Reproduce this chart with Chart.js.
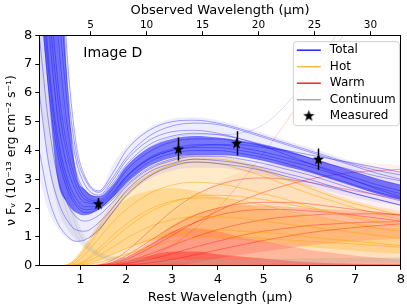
<!DOCTYPE html>
<html>
<head>
<meta charset="utf-8">
<script src="https://cdn.jsdelivr.net/npm/chart.js@4.4.0/dist/chart.umd.min.js"></script>
<style>
  html, body { margin: 0; padding: 0; background: #fff; }
  canvas { display: block; }
</style>
</head>
<body>
<canvas id="sed" width="407" height="305"></canvas>
<script>
// rest wavelength grid (micron) the curves are read at
const restX = [0.1, 0.3, 0.5, 0.7, 0.9, 1.1, 1.4, 1.7, 2.0, 2.5, 3.0, 3.5, 4.0, 4.5, 5.0, 5.5, 6.0, 6.5, 7.0, 7.5, 8.0];
const zPlus1 = 4.09;
const restTicks = [1, 2, 3, 4, 5, 6, 7, 8];
const obsTicks = [5, 10, 15, 20, 25, 30];

// envelopes of the model draws
const totalOuterHi = [50, 30, 16, 8.0, 4.1, 3.1, 2.6, 3.5, 4.15, 4.8, 5.1, 5.15, 5.05, 4.85, 4.6, 4.35, 4.1, 3.85, 3.6, 3.4, 3.25];
const totalOuterLo = [3.0, 1.9, 1.3, 0.95, 0.83, 0.9, 1.2, 1.8, 2.4, 3.0, 3.3, 3.4, 3.4, 3.3, 3.15, 2.95, 2.75, 2.55, 2.35, 2.2, 2.1];
const totalInnerHi = [40, 25, 14, 6.8, 3.3, 2.65, 2.4, 2.8, 3.45, 4.1, 4.4, 4.5, 4.45, 4.35, 4.2, 4.0, 3.75, 3.5, 3.25, 3.0, 2.8];
const totalInnerLo = [9.5, 6.0, 3.0, 2.2, 1.85, 1.75, 1.95, 2.35, 2.85, 3.45, 3.75, 3.85, 3.85, 3.8, 3.65, 3.45, 3.25, 3.0, 2.75, 2.5, 2.3];

const hotOuterHi = [0, 0, 0, 0.05, 0.3, 0.75, 1.5, 2.2, 2.75, 3.35, 3.75, 3.85, 3.8, 3.65, 3.4, 3.1, 2.8, 2.5, 2.25, 2.05, 1.9];
const hotInnerHi = [0, 0, 0, 0.02, 0.2, 0.6, 1.3, 1.9, 2.3, 2.6, 2.7, 2.6, 2.4, 2.2, 2.0, 1.85, 1.7, 1.6, 1.5, 1.4, 1.3];
const hotInnerLo = [0, 0, 0, 0, 0, 0.05, 0.2, 0.4, 0.6, 0.85, 1.0, 1.0, 0.95, 0.9, 0.8, 0.72, 0.65, 0.58, 0.52, 0.46, 0.42];

const warmOuterHi = [0, 0, 0, 0, 0, 0, 0.03, 0.15, 0.45, 1.1, 1.8, 2.4, 2.9, 3.25, 3.5, 3.6, 3.65, 3.65, 3.6, 3.55, 3.5];
const warmInnerHi = [0, 0, 0, 0, 0, 0, 0.02, 0.1, 0.3, 0.8, 1.4, 1.8, 2.0, 2.1, 2.1, 2.05, 2.0, 1.95, 1.9, 1.85, 1.8];
const warmInnerLo = [0, 0, 0, 0, 0, 0, 0, 0, 0, 0, 0, 0.1, 0.25, 0.38, 0.5, 0.6, 0.7, 0.78, 0.85, 0.9, 0.95];
const warmBaseHi = [0, 0, 0, 0, 0, 0, 0.01, 0.08, 0.25, 0.7, 1.2, 1.3, 1.2, 1.0, 0.85, 0.7, 0.55, 0.45, 0.35, 0.28, 0.22];
const warmCoreHi = [0, 0, 0, 0, 0, 0, 0.01, 0.05, 0.15, 0.35, 0.5, 0.5, 0.4, 0.32, 0.25, 0.18, 0.12, 0.09, 0.07, 0.06, 0.05];
const zeroLine = [0, 0, 0, 0, 0, 0, 0, 0, 0, 0, 0, 0, 0, 0, 0, 0, 0, 0, 0, 0, 0];

const contHi = [30, 14, 7.0, 3.5, 1.8, 1.0, 0.5, 0.35, 0.3, 0.25, 0.22, 0.22, 0.22, 0.23, 0.24, 0.25, 0.26, 0.27, 0.28, 0.29, 0.3];
const contLo = [6.0, 3.5, 2.0, 1.3, 0.9, 0.6, 0.3, 0.12, 0.06, 0.05, 0.05, 0.05, 0.05, 0.05, 0.06, 0.06, 0.06, 0.07, 0.07, 0.08, 0.08];

// individual draws
const totalDraws = [
  [14, 8.5, 5.2, 3.5, 2.6, 2.2, 2.15, 2.5, 3.1, 3.75, 4.05, 4.2, 4.2, 4.1, 3.95, 3.75, 3.55, 3.3, 3.05, 2.8, 2.6],
  [22, 13, 8.2, 5.0, 3.3, 2.6, 2.4, 2.85, 3.5, 4.2, 4.5, 4.6, 4.55, 4.4, 4.2, 4.0, 3.75, 3.5, 3.25, 3.0, 2.8],
  [10, 6.2, 3.9, 2.7, 2.1, 1.85, 1.95, 2.3, 2.8, 3.4, 3.7, 3.85, 3.85, 3.8, 3.65, 3.45, 3.25, 3.0, 2.75, 2.5, 2.3],
  [30, 18, 11, 6.5, 4.0, 3.0, 2.55, 3.05, 3.75, 4.5, 4.85, 4.95, 4.9, 4.7, 4.45, 4.2, 3.95, 3.7, 3.45, 3.2, 3.0],
  [6, 3.6, 2.3, 1.6, 1.25, 1.2, 1.5, 2.0, 2.6, 3.25, 3.55, 3.7, 3.65, 3.55, 3.4, 3.2, 3.0, 2.75, 2.5, 2.3, 2.1],
  [4, 2.4, 1.5, 1.05, 0.85, 0.9, 1.25, 1.85, 2.45, 3.1, 3.45, 3.6, 3.55, 3.45, 3.3, 3.1, 2.9, 2.7, 2.5, 2.3, 2.1],
  [18, 10.5, 6.5, 4.2, 3.0, 2.4, 2.25, 2.65, 3.3, 3.95, 4.3, 4.4, 4.4, 4.3, 4.15, 3.95, 3.75, 3.5, 3.3, 3.1, 2.95],
  [12, 7.2, 4.5, 3.1, 2.35, 2.05, 2.05, 2.4, 2.95, 3.6, 3.9, 4.0, 4.0, 3.9, 3.75, 3.55, 3.3, 3.05, 2.8, 2.55, 2.35],
  [16, 9.5, 5.9, 3.9, 2.8, 2.3, 2.2, 2.55, 3.1, 3.7, 4.0, 4.15, 4.2, 4.2, 4.1, 4.0, 3.85, 3.7, 3.55, 3.4, 3.25],
  [26, 15, 9.5, 5.8, 3.7, 2.8, 2.45, 2.95, 3.65, 4.35, 4.65, 4.7, 4.6, 4.4, 4.15, 3.85, 3.55, 3.25, 2.95, 2.65, 2.4],
  [8, 5.0, 3.1, 2.2, 1.7, 1.55, 1.75, 2.2, 2.75, 3.35, 3.65, 3.8, 3.8, 3.7, 3.55, 3.35, 3.15, 2.9, 2.65, 2.45, 2.25],
  [35, 21, 13, 7.5, 4.3, 3.1, 2.6, 3.2, 4.0, 4.7, 5.0, 5.05, 4.95, 4.75, 4.5, 4.25, 4.0, 3.75, 3.5, 3.3, 3.15],
  [11, 6.8, 4.2, 2.9, 2.2, 1.95, 2.0, 2.45, 3.05, 3.7, 4.0, 4.1, 4.1, 4.0, 3.85, 3.65, 3.45, 3.2, 2.95, 2.7, 2.5],
  [20, 12, 7.5, 4.6, 3.2, 2.5, 2.3, 2.7, 3.4, 4.1, 4.45, 4.55, 4.55, 4.6, 4.9, 5.6, 6.6, 7.8, 9, 10, 11]
];
const hotDraws = [
  [0, 0, 0, 0.03, 0.25, 0.65, 1.35, 2.0, 2.55, 3.15, 3.5, 3.6, 3.55, 3.35, 3.1, 2.8, 2.5, 2.25, 2.0, 1.8, 1.6],
  [0, 0, 0, 0.01, 0.12, 0.4, 0.95, 1.5, 1.95, 2.5, 2.8, 2.9, 2.85, 2.7, 2.5, 2.3, 2.05, 1.85, 1.65, 1.5, 1.35],
  [0, 0, 0, 0, 0.05, 0.2, 0.6, 1.05, 1.45, 1.95, 2.25, 2.35, 2.35, 2.25, 2.1, 1.9, 1.75, 1.6, 1.45, 1.3, 1.2],
  [0, 0, 0, 0, 0.02, 0.1, 0.35, 0.65, 0.95, 1.35, 1.6, 1.7, 1.7, 1.65, 1.55, 1.45, 1.35, 1.25, 1.15, 1.05, 0.95],
  [0, 0, 0, 0, 0.01, 0.05, 0.2, 0.4, 0.6, 0.9, 1.1, 1.2, 1.25, 1.2, 1.15, 1.1, 1.0, 0.92, 0.85, 0.78, 0.7],
  [0, 0, 0, 0.02, 0.2, 0.55, 1.2, 1.85, 2.4, 3.1, 3.5, 3.7, 3.7, 3.55, 3.3, 3.0, 2.7, 2.4, 2.15, 1.95, 1.75],
  [0, 0, 0, 0, 0.03, 0.15, 0.5, 0.9, 1.3, 1.85, 2.2, 2.4, 2.45, 2.4, 2.3, 2.15, 2.0, 1.85, 1.7, 1.55, 1.45],
  [0, 0, 0, 0, 0.01, 0.03, 0.12, 0.25, 0.4, 0.65, 0.85, 0.95, 1.0, 1.0, 0.95, 0.9, 0.85, 0.8, 0.75, 0.7, 0.65]
];
const warmDraws = [
  [0, 0, 0, 0, 0, 0, 0.02, 0.1, 0.28, 0.7, 1.15, 1.5, 1.75, 1.9, 1.95, 1.95, 1.9, 1.85, 1.75, 1.65, 1.55],
  [0, 0, 0, 0, 0, 0, 0.01, 0.05, 0.15, 0.4, 0.7, 1.0, 1.25, 1.45, 1.6, 1.7, 1.75, 1.8, 1.8, 1.8, 1.78],
  [0, 0, 0, 0, 0, 0, 0, 0.02, 0.07, 0.22, 0.42, 0.65, 0.85, 1.05, 1.2, 1.3, 1.4, 1.45, 1.5, 1.52, 1.53],
  [0, 0, 0, 0, 0, 0, 0.03, 0.2, 0.5, 1.2, 1.9, 2.45, 2.8, 3.0, 3.05, 3.0, 2.9, 2.75, 2.6, 2.45, 2.3],
  [0, 0, 0, 0, 0, 0, 0, 0.01, 0.03, 0.1, 0.22, 0.38, 0.55, 0.72, 0.88, 1.02, 1.15, 1.25, 1.33, 1.4, 1.45],
  [0, 0, 0, 0, 0, 0, 0.01, 0.08, 0.22, 0.6, 1.05, 1.5, 1.9, 2.25, 2.55, 2.8, 3.0, 3.15, 3.25, 3.3, 3.35],
  [0, 0, 0, 0, 0, 0, 0.02, 0.12, 0.35, 0.85, 1.35, 1.75, 2.0, 2.15, 2.2, 2.2, 2.15, 2.05, 1.95, 1.85, 1.75],
  [0, 0, 0, 0, 0, 0, 0, 0.02, 0.08, 0.3, 0.7, 1.3, 2.0, 2.9, 3.9, 5.0, 6.2, 7.4, 8.6, 9.6, 10.5]
];
const contDraws = [
  [12, 6.0, 3.2, 1.9, 1.1, 0.7, 0.35, 0.2, 0.16, 0.13, 0.12, 0.12, 0.12, 0.13, 0.13, 0.14, 0.15, 0.16, 0.17, 0.18, 0.19],
  [20, 10, 5.0, 2.6, 1.4, 0.8, 0.4, 0.28, 0.24, 0.2, 0.18, 0.18, 0.18, 0.19, 0.2, 0.21, 0.22, 0.23, 0.24, 0.25, 0.26]
];

// measured photometry
const measX = [1.39, 3.14, 4.41, 6.2];
const measY = [2.15, 4.05, 4.25, 3.70];
const measErr = [0.2, 0.4, 0.42, 0.37];

const legendNames = ['Total', 'Hot', 'Warm', 'Continuum', 'Measured'];
const legendColors = ['#2020ff', '#ffb940', '#ff2020', '#a8a8a8', '#000'];

const BLUE = '0,0,255', ORANGE = '255,165,0', RED = '255,0,0', GRAY = '170,170,170';

Chart.defaults.font.family = 'DejaVu Sans';
Chart.defaults.color = '#000';

const pts = vals => vals.map((v, i) => ({ x: restX[i], y: v }));
const layers = [];
function addBand(lo, hi, rgb, a) {
  layers.push({ data: pts(lo), borderWidth: 0, pointRadius: 0, fill: false, cubicInterpolationMode: 'monotone' });
  layers.push({ data: pts(hi), borderWidth: 0, pointRadius: 0, fill: '-1',
    backgroundColor: 'rgba(' + rgb + ',' + a + ')', cubicInterpolationMode: 'monotone' });
}
function addLine(vals, rgb, a, w) {
  layers.push({ data: pts(vals), borderColor: 'rgba(' + rgb + ',' + a + ')', borderWidth: w || 1,
    pointRadius: 0, fill: false, cubicInterpolationMode: 'monotone' });
}

addBand(zeroLine, warmOuterHi, RED, 0.06);
addBand(zeroLine, hotOuterHi, ORANGE, 0.22);
addBand(warmInnerLo, warmInnerHi, RED, 0.15);
addBand(hotInnerLo, hotInnerHi, ORANGE, 0.26);
addBand(zeroLine, warmBaseHi, RED, 0.18);
addBand(zeroLine, warmCoreHi, RED, 0.35);
addBand(contLo, contHi, GRAY, 0.2);
contDraws.forEach(c => addLine(c, GRAY, 0.25));
hotDraws.forEach((c, i) => {
  addLine(c, ORANGE, 0.5);
  if (warmDraws[i]) addLine(warmDraws[i], RED, i === 7 ? 0.18 : 0.35);
});
addBand(totalOuterLo, totalOuterHi, BLUE, 0.07);
addBand(totalInnerLo, totalInnerHi, BLUE, 0.5);
totalDraws.forEach((c, i) => addLine(c, BLUE, i === 13 ? 0.15 : 0.35));

// star marker used as point style
const star = document.createElement('canvas');
star.width = 13; star.height = 13;
(function () {
  const c = star.getContext('2d');
  c.beginPath();
  for (let k = 0; k < 10; k++) {
    const r = k % 2 ? 2.4 : 6;
    const ang = -Math.PI / 2 + k * Math.PI / 5;
    c.lineTo(6.5 + r * Math.cos(ang), 6.8 + r * Math.sin(ang));
  }
  c.closePath();
  c.fillStyle = '#000';
  c.fill();
})();

layers.push({ data: measX.map((x, i) => ({ x: x, y: measY[i] })), showLine: false,
  pointStyle: star, pointRadius: 6, borderWidth: 0 });

const N = layers.length;
layers.forEach((d, i) => { d.order = N - i; });

const errorBars = {
  id: 'errorBars',
  afterDatasetsDraw(chart) {
    const ctx = chart.ctx, xs = chart.scales.x, ys = chart.scales.y;
    ctx.save();
    ctx.strokeStyle = '#000';
    ctx.lineWidth = 1.5;
    measX.forEach((x, i) => {
      const px = Math.round(xs.getPixelForValue(x)) + 0.5;
      ctx.beginPath();
      ctx.moveTo(px, ys.getPixelForValue(measY[i] - measErr[i]));
      ctx.lineTo(px, ys.getPixelForValue(measY[i] + measErr[i]));
      ctx.stroke();
    });
    ctx.restore();
  }
};

const decor = {
  id: 'decor',
  afterDraw(chart) {
    const ctx = chart.ctx, a = chart.chartArea;
    ctx.save();
    ctx.strokeStyle = '#000';
    ctx.lineWidth = 1;
    ctx.strokeRect(Math.round(a.left) + 0.5, Math.round(a.top) + 0.5,
      Math.round(a.right - a.left) - 1, Math.round(a.bottom - a.top) - 1);

    ctx.fillStyle = '#000';
    ctx.font = '14px "DejaVu Sans"';
    ctx.textBaseline = 'alphabetic';
    ctx.fillText('Image D', a.left + 44, a.top + 22);

    // legend box
    const bx = a.right - 108, by = a.top + 6, bw = 106, bh = 84;
    ctx.beginPath();
    ctx.roundRect(bx + 0.5, by + 0.5, bw, bh, 3);
    ctx.fillStyle = 'rgba(255,255,255,0.8)';
    ctx.fill();
    ctx.strokeStyle = '#d0d0d0';
    ctx.stroke();
    ctx.font = '12px "DejaVu Sans"';
    ctx.textBaseline = 'middle';
    legendNames.forEach((name, i) => {
      const y = by + 9 + i * 16.5;
      if (i < 4) {
        ctx.strokeStyle = legendColors[i];
        ctx.lineWidth = 1.5;
        ctx.beginPath();
        ctx.moveTo(bx + 4, y);
        ctx.lineTo(bx + 28, y);
        ctx.stroke();
      } else {
        ctx.drawImage(star, bx + 16 - 6.5, y - 7);
      }
      ctx.fillStyle = '#000';
      ctx.fillText(name, bx + 37, y);
    });
    ctx.restore();
  }
};

const axisGrid = { drawOnChartArea: false, drawTicks: true, tickLength: 4, color: '#000', tickWidth: 1 };

new Chart(document.getElementById('sed'), {
  type: 'line',
  data: { datasets: layers },
  options: {
    responsive: false,
    animation: false,
    events: [],
    layout: { padding: { left: 4, right: 5, top: 3, bottom: 0 } },
    plugins: { legend: { display: false }, tooltip: { enabled: false } },
    scales: {
      x: {
        type: 'linear', position: 'bottom', min: 0.1, max: 8,
        afterBuildTicks: s => { s.ticks = restTicks.map(v => ({ value: v })); },
        ticks: { font: { size: 13 }, padding: 2, maxRotation: 0 },
        grid: axisGrid,
        border: { color: '#000' },
        title: { display: true, text: 'Rest Wavelength (μm)', font: { size: 13 }, padding: { top: 0, bottom: 0 } }
      },
      x2: {
        type: 'linear', position: 'top', min: 0.1 * zPlus1, max: 8 * zPlus1,
        afterBuildTicks: s => { s.ticks = obsTicks.map(v => ({ value: v })); },
        ticks: { font: { size: 10.5 }, padding: 0, maxRotation: 0 },
        grid: axisGrid,
        border: { color: '#000' },
        title: { display: true, text: 'Observed Wavelength (μm)', font: { size: 13 }, padding: { top: 0, bottom: 0 } }
      },
      y: {
        min: 0, max: 8,
        ticks: { stepSize: 1, font: { size: 13 }, padding: 3 },
        grid: axisGrid,
        border: { color: '#000' },
        title: { display: true, text: 'ν F\u1D65 (10\u207B\u00B9\u00B3 erg cm\u207B\u00B2 s\u207B\u00B9)', font: { size: 12.5 }, padding: { top: 0, bottom: 2 } }
      }
    }
  },
  plugins: [errorBars, decor]
});
</script>
</body>
</html>
